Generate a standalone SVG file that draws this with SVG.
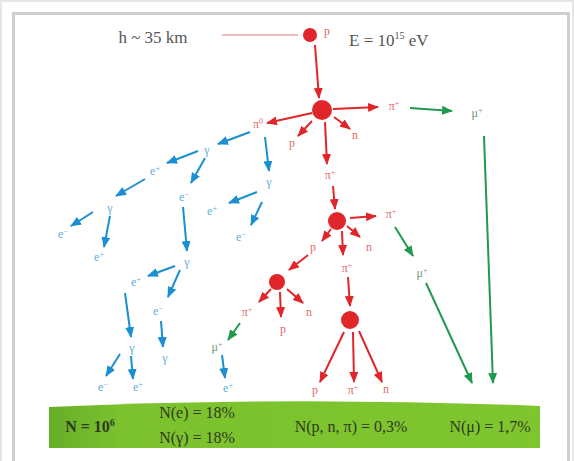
<svg xmlns="http://www.w3.org/2000/svg" width="574" height="461" viewBox="0 0 574 461">
<defs>
<marker id="ar" markerUnits="userSpaceOnUse" markerWidth="11" markerHeight="9" refX="10" refY="4.5" orient="auto"><path d="M0,0 L11,4.5 L0,9 Z" fill="#e0262a"/></marker>
<marker id="ab" markerUnits="userSpaceOnUse" markerWidth="11" markerHeight="9" refX="10" refY="4.5" orient="auto"><path d="M0,0 L11,4.5 L0,9 Z" fill="#1b8fd2"/></marker>
<marker id="ag" markerUnits="userSpaceOnUse" markerWidth="11" markerHeight="9" refX="10" refY="4.5" orient="auto"><path d="M0,0 L11,4.5 L0,9 Z" fill="#1f9a4e"/></marker>
<linearGradient id="gb" x1="0" y1="0" x2="1" y2="0"><stop offset="0" stop-color="#66ae28"/><stop offset="0.15" stop-color="#7cc22e"/><stop offset="1" stop-color="#7ec52f"/></linearGradient>
</defs>
<style>
.r{stroke:#e0262a;stroke-width:2;fill:none;marker-end:url(#ar)}
.b{stroke:#1b8fd2;stroke-width:2;fill:none;marker-end:url(#ab)}
.g{stroke:#1f9a4e;stroke-width:2;fill:none;marker-end:url(#ag)}
.dot{fill:#e0262a}
text{font-family:"Liberation Serif","Times New Roman",serif;text-anchor:middle}
.lr{fill:#e36a6a;font-size:12px}
.lb{fill:#62aede;font-size:12px}
.lg{fill:#6a9a7a;font-size:12px}
.hd{fill:#555;font-size:17px}
.bt{fill:#2e3a1c;font-size:16px}
</style>
<rect x="0" y="0" width="574" height="461" fill="#ffffff"/>
<rect x="1" y="1" width="572" height="470" fill="none" stroke="#e6e6e6" stroke-width="2"/>
<rect x="13.5" y="13.5" width="555" height="460" fill="none" stroke="#cfcfcf" stroke-width="3"/>

<g id="ground">
<path d="M49,407 Q295,396 540,406 L540,448 L49,448 Z" fill="url(#gb)"/>
<text class="bt" x="90" y="432" font-weight="bold" font-size="15">N = 10<tspan dy="-6" font-size="10">6</tspan></text>
<text class="bt" x="197" y="418">N(e) = 18%</text>
<text class="bt" x="197" y="443">N(γ) = 18%</text>
<text class="bt" x="351" y="432">N(p, n, π) = 0,3%</text>
<text class="bt" x="490" y="432">N(μ) = 1,7%</text>
</g>

<g id="header">
<text class="hd" x="153" y="43">h ~ 35 km</text>
<line x1="222" y1="35" x2="298" y2="35" stroke="#e07a7a" stroke-width="1"/>
<text class="hd" x="349" y="46" style="text-anchor:start">E = 10<tspan dy="-7" font-size="10">15</tspan><tspan dy="7"> eV</tspan></text>
</g>

<g id="connectors">
<line class="r" x1="315" y1="45" x2="319" y2="98"/>
<line class="r" x1="333" y1="109" x2="378" y2="107"/>
<line class="r" x1="312" y1="113" x2="267" y2="123"/>
<line class="r" x1="312" y1="121" x2="298" y2="136"/>
<line class="r" x1="334" y1="117" x2="350" y2="129"/>
<line class="r" x1="325" y1="122" x2="327" y2="164"/>
<line class="r" x1="333" y1="186" x2="335" y2="209"/>
<line class="r" x1="350" y1="218" x2="376" y2="216"/>
<line class="r" x1="347" y1="226" x2="360" y2="237"/>
<line class="r" x1="331" y1="229" x2="322" y2="241"/>
<line class="r" x1="342" y1="231" x2="343" y2="255"/>
<line class="r" x1="308" y1="255" x2="289" y2="270"/>
<line class="r" x1="271" y1="289" x2="259" y2="302"/>
<line class="r" x1="280" y1="292" x2="281" y2="317"/>
<line class="r" x1="287" y1="289" x2="303" y2="303"/>
<line class="r" x1="348" y1="277" x2="350" y2="306"/>
<line class="r" x1="344" y1="332" x2="320" y2="382"/>
<line class="r" x1="353" y1="332" x2="354" y2="382"/>
<line class="r" x1="359" y1="331" x2="382" y2="382"/>

<line class="g" x1="410" y1="108" x2="452" y2="111"/>
<line class="g" x1="484" y1="136" x2="493" y2="383"/>
<line class="g" x1="395" y1="227" x2="413" y2="256"/>
<line class="g" x1="426" y1="283" x2="472" y2="383"/>
<line class="g" x1="240" y1="323" x2="228" y2="340"/>

<line class="b" x1="250" y1="132" x2="218" y2="144"/>
<line class="b" x1="198" y1="151" x2="167" y2="163"/>
<line class="b" x1="205" y1="158" x2="191" y2="183"/>
<line class="b" x1="145" y1="179" x2="116" y2="196"/>
<line class="b" x1="93" y1="212" x2="71" y2="226"/>
<line class="b" x1="110" y1="216" x2="104" y2="247"/>
<line class="b" x1="183" y1="207" x2="187" y2="251"/>
<line class="b" x1="265" y1="137" x2="269" y2="171"/>
<line class="b" x1="257" y1="192" x2="229" y2="203"/>
<line class="b" x1="262" y1="202" x2="251" y2="225"/>
<line class="b" x1="175" y1="266" x2="148" y2="276"/>
<line class="b" x1="180" y1="270" x2="168" y2="297"/>
<line class="b" x1="125" y1="293" x2="131" y2="337"/>
<line class="b" x1="161" y1="321" x2="163" y2="347"/>
<line class="b" x1="120" y1="354" x2="106" y2="376"/>
<line class="b" x1="131" y1="356" x2="133" y2="379"/>
<line class="b" x1="222" y1="355" x2="225" y2="378"/>
</g>

<g id="p0"><circle class="dot" cx="310" cy="35" r="7"/><text class="lr" x="327" y="35" font-size="11">p</text></g>
<g id="c1"><circle class="dot" cx="322" cy="110" r="10"/></g>
<g id="piA"><text class="lr" x="394" y="110">π<tspan dy="-4" font-size="8">+</tspan></text></g>
<g id="muA"><text class="lg" x="477" y="117">μ<tspan dy="-4" font-size="8">+</tspan></text></g>
<g id="pi0"><text class="lr" x="258" y="128">π<tspan dy="-4" font-size="8">0</tspan></text></g>
<g id="p1"><text class="lr" x="292" y="147">p</text></g>
<g id="n1"><text class="lr" x="355" y="139">n</text></g>
<g id="piB"><text class="lr" x="330" y="179">π<tspan dy="-4" font-size="8">+</tspan></text></g>
<g id="c2"><circle class="dot" cx="337" cy="221" r="9"/></g>
<g id="piC"><text class="lr" x="391" y="218">π<tspan dy="-4" font-size="8">+</tspan></text></g>
<g id="n2"><text class="lr" x="369" y="251">n</text></g>
<g id="p2"><text class="lr" x="313" y="251">p</text></g>
<g id="piD"><text class="lr" x="347" y="272">π<tspan dy="-4" font-size="8">+</tspan></text></g>
<g id="muB"><text class="lg" x="422" y="277">μ<tspan dy="-4" font-size="8">+</tspan></text></g>
<g id="c3"><circle class="dot" cx="277" cy="282" r="8"/></g>
<g id="piE"><text class="lr" x="247" y="316">π<tspan dy="-4" font-size="8">+</tspan></text></g>
<g id="p3"><text class="lr" x="283" y="333">p</text></g>
<g id="n3"><text class="lr" x="309" y="316">n</text></g>
<g id="muC"><text class="lg" x="217" y="351">μ<tspan dy="-4" font-size="8">+</tspan></text></g>
<g id="c4"><circle class="dot" cx="350" cy="320" r="9"/></g>
<g id="p4"><text class="lr" x="315" y="394">p</text></g>
<g id="piF"><text class="lr" x="353" y="394">π<tspan dy="-4" font-size="8">+</tspan></text></g>
<g id="n4"><text class="lr" x="386" y="393">n</text></g>

<g id="g1"><text class="lb" x="207" y="154">γ</text></g>
<g id="e1"><text class="lb" x="155" y="175">e<tspan dy="-4" font-size="8">+</tspan></text></g>
<g id="e2"><text class="lb" x="184" y="201">e<tspan dy="-4" font-size="8">−</tspan></text></g>
<g id="g2"><text class="lb" x="110" y="212">γ</text></g>
<g id="e3"><text class="lb" x="63" y="238">e<tspan dy="-4" font-size="8">−</tspan></text></g>
<g id="e4"><text class="lb" x="99" y="261">e<tspan dy="-4" font-size="8">+</tspan></text></g>
<g id="g3"><text class="lb" x="187" y="266">γ</text></g>
<g id="g6"><text class="lb" x="269" y="186">γ</text></g>
<g id="e5"><text class="lb" x="212" y="215">e<tspan dy="-4" font-size="8">+</tspan></text></g>
<g id="e6"><text class="lb" x="241" y="241">e<tspan dy="-4" font-size="8">−</tspan></text></g>
<g id="e7"><text class="lb" x="136" y="286">e<tspan dy="-4" font-size="8">+</tspan></text></g>
<g id="e8"><text class="lb" x="158" y="315">e<tspan dy="-4" font-size="8">−</tspan></text></g>
<g id="g4"><text class="lb" x="132" y="352">γ</text></g>
<g id="g5"><text class="lb" x="165" y="362">γ</text></g>
<g id="e9"><text class="lb" x="103" y="391">e<tspan dy="-4" font-size="8">−</tspan></text></g>
<g id="e10"><text class="lb" x="138" y="391">e<tspan dy="-4" font-size="8">+</tspan></text></g>
<g id="e11"><text class="lb" x="228" y="392">e<tspan dy="-4" font-size="8">+</tspan></text></g>
</svg>
